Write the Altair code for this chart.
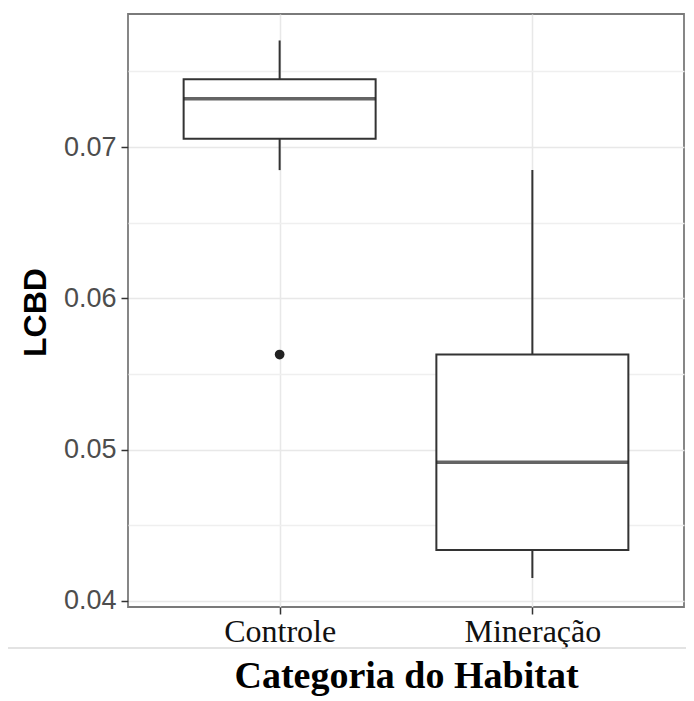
import altair as alt
import pandas as pd

# ---- data ----
habitat = ["Controle", "Mineração"]
whisker_low = [0.06848, 0.04152]
q1 = [0.07056, 0.04336]
median = [0.07320, 0.04917]
q3 = [0.07448, 0.05629]
whisker_high = [0.07705, 0.06848]

outlier_habitat = ["Controle"]
outlier_value = [0.05629]

y_ticks = [0.040, 0.045, 0.050, 0.055, 0.060, 0.065, 0.070, 0.075]

box_df = pd.DataFrame({
    "habitat": habitat, "lo": whisker_low, "q1": q1, "med": median,
    "q3": q3, "hi": whisker_high,
})
out_df = pd.DataFrame({"habitat": outlier_habitat, "value": outlier_value})

major = "round(datum.value*1000) % 10 == 0"

x_enc = alt.X(
    "habitat:N",
    sort=habitat,
    scale=alt.Scale(type="point", padding=0.6),
    axis=alt.Axis(
        title="Categoria do Habitat",
        labelAngle=0,
        labelFont="Liberation Serif",
        labelFontSize=32,
        labelColor="#111111",
        labelPadding=2,
        tickSize=7,
        tickColor="#333333",
        tickWidth=1.5,
        domain=False,
        grid=True,
        gridColor="#e8e8e8",
        gridWidth=1.5,
        titleFont="Liberation Serif",
        titleFontSize=38,
        titleFontWeight="bold",
        titleColor="#000000",
        titleBaseline="alphabetic",
        titleY=80,
    ),
)

y_scale = alt.Scale(domain=[0.0396, 0.0788], nice=False, zero=False)
y_axis = alt.Axis(
    title="LCBD",
    values=y_ticks,
    labelExpr=f"{major} ? format(datum.value, '.2f') : ''",
    labelFont="Liberation Sans",
    labelFontSize=27,
    labelColor="#4d4d4d",
    labelPadding=5,
    tickSize=7,
    tickColor="#333333",
    tickWidth=1.5,
    tickOpacity={"condition": {"test": major, "value": 1}, "value": 0},
    domain=False,
    grid=True,
    gridColor={"condition": {"test": major, "value": "#e8e8e8"}, "value": "#efefef"},
    gridWidth=1.5,
    titleFont="Liberation Sans",
    titleFontSize=32,
    titleFontWeight="bold",
    titleColor="#000000",
    titleAngle=-90,
    titleAlign="center",
    titleBaseline="middle",
    titleX=-93,
    titleY=298,
)

base = alt.Chart(box_df)

whiskers = base.mark_rule(color="#333333", strokeWidth=2).encode(
    x=x_enc,
    y=alt.Y("lo:Q", scale=y_scale, axis=y_axis),
    y2="hi:Q",
)

boxes = base.mark_bar(size=192, fill="white", stroke="#333333", strokeWidth=2).encode(
    x=alt.X("habitat:N", sort=habitat),
    y=alt.Y("q1:Q"),
    y2="q3:Q",
)

medians = base.mark_tick(size=192, thickness=3.5, color="#222222", orient="horizontal").encode(
    x=alt.X("habitat:N", sort=habitat),
    y=alt.Y("med:Q"),
)

outliers = alt.Chart(out_df).mark_circle(size=95, color="#222222", opacity=1).encode(
    x=alt.X("habitat:N", sort=habitat),
    y=alt.Y("value:Q"),
)

separator = alt.Chart(alt.Data(values=[{}])).mark_rule(
    color="#dadada", strokeWidth=1.5
).encode(
    x=alt.value(-123), x2=alt.value(558), y=alt.value(634)
)

chart = alt.layer(whiskers, boxes, medians, outliers, separator).properties(
    width=556,
    height=593,
    autosize=alt.AutoSizeParams(type="none"),
    padding={"left": 120, "top": 6, "right": 2, "bottom": 91},
).configure(
    background="white"
).configure_view(
    stroke="#7a7a7a", strokeWidth=1.8
)

chart.save("out.html", embed_options={"renderer": "svg", "actions": False})
